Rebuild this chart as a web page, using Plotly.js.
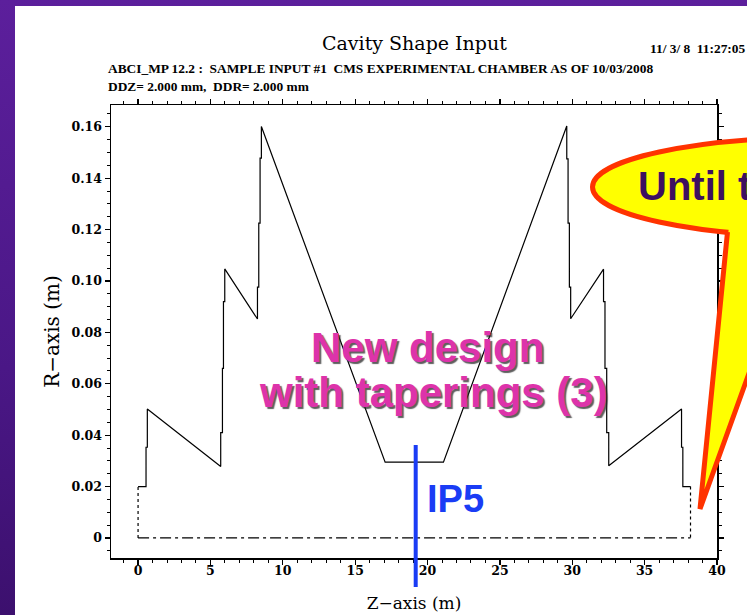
<!DOCTYPE html>
<html>
<head>
<meta charset="utf-8">
<script src="https://cdn.plot.ly/plotly-3.0.1.min.js"></script>
<style>
  html, body { margin: 0; padding: 0; width: 747px; height: 615px; overflow: hidden;
    background: linear-gradient(180deg, #5c1f9c 0%, #4a1786 60%, #3c106e 100%); }
  #chart { position: absolute; left: 15px; top: 6px; width: 732px; height: 609px; background: #fff; }
</style>
</head>
<body>
<div id="chart"></div>
<script>
// ---- data (Z in m, R in m) ----
const zOutline = [0, 0.55, 0.55, 0.64, 0.64, 5.71, 5.71, 5.83, 5.83, 5.90, 5.90, 5.99, 5.99,
  8.25, 8.25, 8.34, 8.34, 8.43, 8.43, 8.52, 8.52,
  17.07, 21.10,
  29.62, 29.62, 29.71, 29.71, 29.80, 29.80, 29.89, 29.89,
  32.16, 32.16, 32.26, 32.26, 32.38, 32.38, 32.52, 32.52,
  37.55, 37.55, 37.64, 37.64, 38.17];
const rOutline = [0.020, 0.020, 0.0353, 0.0353, 0.0502, 0.0278, 0.041, 0.041, 0.066, 0.066, 0.092, 0.092, 0.1047,
  0.0852, 0.0976, 0.0976, 0.1225, 0.1225, 0.1478, 0.1478, 0.1601,
  0.0295, 0.0295,
  0.1603, 0.1475, 0.1475, 0.1225, 0.1225, 0.0976, 0.0976, 0.0853,
  0.1046, 0.092, 0.092, 0.066, 0.066, 0.041, 0.041, 0.0281,
  0.0502, 0.0353, 0.0353, 0.020, 0.020];
const zLeftEnd = [0, 0];
const rLeftEnd = [0, 0.020];
const zRightEnd = [38.17, 38.17];
const rRightEnd = [0.020, 0];
const zBeamAxis = [0, 38.17];
const rBeamAxis = [0, 0];
const xTickVals = [0, 5, 10, 15, 20, 25, 30, 35, 40];
const yTickVals = [0, 0.02, 0.04, 0.06, 0.08, 0.10, 0.12, 0.14, 0.16];
const yTickText = ['0', '0.02', '0.04', '0.06', '0.08', '0.10', '0.12', '0.14', '0.16'];

// ---- page-pixel to paper helpers (plot area: x 111..717, y 105..558 in page px) ----
const PL = 111, PR = 717, PT = 105, PB = 558;
const px = X => (X - PL) / (PR - PL);
const py = Y => (PB - Y) / (PB - PT);

const serif = 'Liberation Serif, DejaVu Serif, serif';
const dserif = 'DejaVu Serif, serif';
const sans = 'Liberation Sans, Arial, sans-serif';

const traces = [
  { x: zOutline, y: rOutline, mode: 'lines', line: { color: '#000', width: 1.2 }, hoverinfo: 'skip' },
  { x: zLeftEnd, y: rLeftEnd, mode: 'lines', line: { color: '#000', width: 1.2, dash: '3px,3px' }, hoverinfo: 'skip' },
  { x: zRightEnd, y: rRightEnd, mode: 'lines', line: { color: '#000', width: 1.2, dash: '3px,3px' }, hoverinfo: 'skip' },
  { x: zBeamAxis, y: rBeamAxis, mode: 'lines', line: { color: '#000', width: 1.2, dash: '11px,4px,3px,4px' }, hoverinfo: 'skip' }
];

const axisCommon = {
  showgrid: false, zeroline: false, showline: true, linecolor: '#000', linewidth: 1.5,
  mirror: 'allticks', ticks: 'outside', ticklen: 5, tickwidth: 1.2, tickcolor: '#000',
  tickfont: { family: dserif, size: 12.5, color: '#000', weight: 'bold' }
};

const layout = {
  width: 732, height: 609,
  margin: { l: 96, r: 30, t: 99, b: 57 },
  paper_bgcolor: '#ffffff', plot_bgcolor: '#ffffff',
  showlegend: false,
  xaxis: Object.assign({}, axisCommon, {
    range: [-1.87, 40], tickmode: 'array', tickvals: xTickVals,
    ticklabelstandoff: -5,
    minor: { dtick: 1, tick0: 0, ticks: 'outside', ticklen: 3, tickcolor: '#000', tickwidth: 1 },
    title: { text: 'Z−axis (m)', standoff: 20, font: { family: dserif, size: 17, color: '#000' } }
  }),
  yaxis: Object.assign({}, axisCommon, {
    range: [-0.0078, 0.1685], tickmode: 'array', tickvals: yTickVals, ticktext: yTickText,
    minor: { dtick: 0.005, tick0: 0, ticks: 'outside', ticklen: 3, tickcolor: '#000', tickwidth: 1 },
    title: { text: 'R−axis (m)', standoff: 6, font: { family: dserif, size: 20, color: '#000' } }
  }),
  shapes: [
    // speech bubble body
    { type: 'circle', xref: 'paper', yref: 'paper', layer: 'above',
      x0: px(592.5), x1: px(1047.5), y0: py(236.5), y1: py(137.5),
      fillcolor: '#ffff00', line: { color: '#ff3300', width: 5 } },
    // tail fill
    { type: 'path', xref: 'paper', yref: 'paper', layer: 'above',
      path: `M${px(729)},${py(226)} L${px(701)},${py(505)} L${px(770)},${py(312)} L${px(770)},${py(226)} Z`,
      fillcolor: '#ffff00', line: { width: 0 } },
    // tail outline
    { type: 'path', xref: 'paper', yref: 'paper', layer: 'above',
      path: `M${px(727.5)},${py(232)} L${px(700)},${py(509)} L${px(770)},${py(315)}`,
      line: { color: '#ff3300', width: 5 } },
    // IP5 marker line
    { type: 'line', xref: 'paper', yref: 'paper', layer: 'above',
      x0: px(415.7), x1: px(415.7), y0: py(445), y1: py(587),
      line: { color: '#1a3cf5', width: 4 } }
  ],
  annotations: [
    { text: 'Cavity Shape Input', xref: 'paper', yref: 'paper', x: px(414), y: py(43), xanchor: 'center', yanchor: 'middle',
      showarrow: false, font: { family: dserif, size: 19, color: '#000' } },
    { text: '11/ 3/ 8  11:27:05', xref: 'paper', yref: 'paper', x: px(648), y: py(48), xanchor: 'left', yanchor: 'middle',
      showarrow: false, font: { family: serif, size: 13.4, color: '#000', weight: 'bold' } },
    { text: 'ABCI_MP 12.2 :  SAMPLE INPUT #1  CMS EXPERIMENTAL CHAMBER AS OF 10/03/2008', xref: 'paper', yref: 'paper',
      x: px(106), y: py(68), xanchor: 'left', yanchor: 'middle',
      showarrow: false, font: { family: serif, size: 13.4, color: '#000', weight: 'bold' } },
    { text: 'DDZ= 2.000 mm,  DDR= 2.000 mm', xref: 'paper', yref: 'paper',
      x: px(106), y: py(86), xanchor: 'left', yanchor: 'middle',
      showarrow: false, font: { family: serif, size: 13.4, color: '#000', weight: 'bold' } },
    { text: 'New design', xref: 'paper', yref: 'paper', x: px(427), y: py(347), xanchor: 'center', yanchor: 'middle',
      showarrow: false, font: { family: sans, size: 42, color: '#dd33aa', weight: 'bold', shadow: '2px 2px 1px rgba(40,40,40,0.75)' } },
    { text: 'with taperings (3)', xref: 'paper', yref: 'paper', x: px(433), y: py(392), xanchor: 'center', yanchor: 'middle',
      showarrow: false, font: { family: sans, size: 42, color: '#dd33aa', weight: 'bold', shadow: '2px 2px 1px rgba(40,40,40,0.75)' } },
    { text: 'IP5', xref: 'paper', yref: 'paper', x: px(425), y: py(499), xanchor: 'left', yanchor: 'middle',
      showarrow: false, font: { family: sans, size: 38, color: '#1a3cf5', weight: 'bold' } },
    { text: 'Until the', xref: 'paper', yref: 'paper', x: px(636), y: py(186), xanchor: 'left', yanchor: 'middle',
      showarrow: false, font: { family: sans, size: 40, color: '#3d1060', weight: 'bold' } }
  ]
};

Plotly.newPlot('chart', traces, layout, { displayModeBar: false, staticPlot: true });
</script>
</body>
</html>
